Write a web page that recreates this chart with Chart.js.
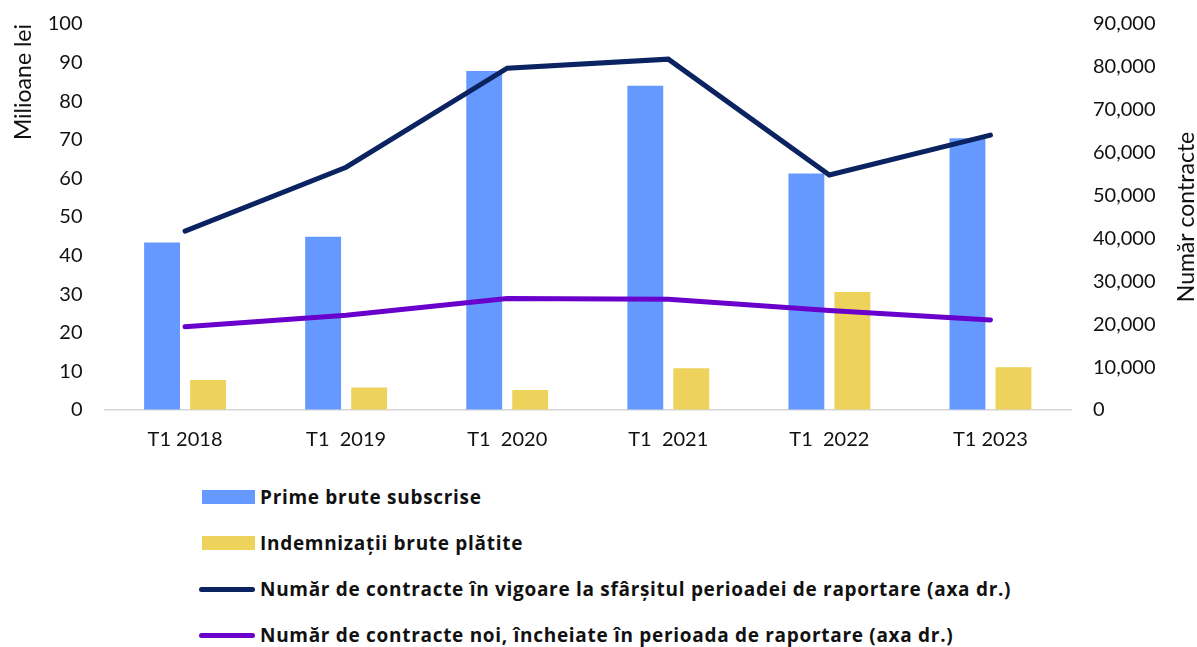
<!DOCTYPE html>
<html>
<head>
<meta charset="utf-8">
<script src="https://cdn.jsdelivr.net/npm/chart.js@4"></script>
<style>
  html, body { margin:0; padding:0; background:#fff; }
  #wrap { position:relative; width:1197px; height:647px; overflow:hidden; font-family: Lato, "Liberation Sans", sans-serif; }
  #chartBox { position:absolute; left:0; top:0; width:1197px; height:470px; }
  #legend { position:absolute; left:199px; top:474px; }
  .lg-item { display:flex; align-items:center; height:46px; }
  .lg-mark { width:56px; display:flex; justify-content:flex-end; margin-right:5px; }
  .lg-text { font-family:"Open Sans", sans-serif; font-weight:bold; font-size:19px; letter-spacing:0.7px; color:#111; white-space:nowrap; }
</style>
</head>
<body>
<div id="wrap">
  <div id="chartBox"><canvas id="c"></canvas></div>
  <div id="legend"></div>
</div>
<script>
// Data
const labels = ['T1 2018', 'T1  2019', 'T1  2020', 'T1  2021', 'T1  2022', 'T1 2023'];
const prime = [43.4, 44.9, 87.8, 84.0, 61.3, 70.4];           // milioane lei
const indemnizatii = [7.8, 5.8, 5.2, 10.8, 30.6, 11.1];        // milioane lei
const contracteVigoare = [41700, 56600, 79700, 81800, 54800, 64100]; // axa dr.
const contracteNoi = [19400, 22100, 26000, 25800, 23200, 21000];     // axa dr.

const leftTicks = [0, 10, 20, 30, 40, 50, 60, 70, 80, 90, 100];
const rightTicks = [0, 10000, 20000, 30000, 40000, 50000, 60000, 70000, 80000, 90000];

const BLUE = '#6699ff', YELLOW = '#edd25b', NAVY = '#0b2361', PURPLE = '#6a00cc';
const FONT = 'Lato, "Liberation Sans", sans-serif';

/* ---------- right axis title, drawn rotated like the original ---------- */
const rightTitle = {
  id: 'rightTitle',
  afterDraw(chart){
    const s = chart.scales.y2, ctx = chart.ctx;
    ctx.save();
    ctx.translate(1187, (s.top + s.bottom) / 2);
    ctx.rotate(-Math.PI / 2);
    ctx.font = '23px ' + FONT;
    ctx.fillStyle = '#111';
    ctx.textAlign = 'center';
    ctx.textBaseline = 'middle';
    ctx.fillText('Număr contracte', 0, 0);
    ctx.restore();
  }
};

/* ---------- html legend ---------- */
function buildLegend(chart){
  const box = document.getElementById('legend');
  box.innerHTML = '';
  chart.data.datasets.forEach(ds => {
    const row = document.createElement('div');
    row.className = 'lg-item';
    const mark = document.createElement('div');
    mark.className = 'lg-mark';
    const sw = document.createElement('span');
    if (ds.type === 'line') {
      sw.style.cssText = `display:block;width:58px;height:5px;border-radius:3px;background:${ds.borderColor}`;
    } else {
      sw.style.cssText = `display:block;width:53px;height:14px;background:${ds.backgroundColor}`;
    }
    mark.appendChild(sw);
    const txt = document.createElement('span');
    txt.className = 'lg-text';
    txt.textContent = ds.label;
    row.appendChild(mark); row.appendChild(txt);
    box.appendChild(row);
  });
}

// invisible tick marks push the labels away from the plot without adding top padding
const gapTicks = { display:true, drawOnChartArea:false, drawTicks:true, tickLength:20, tickColor:'rgba(0,0,0,0)' };

const ctx = document.getElementById('c').getContext('2d');
const chart = new Chart(ctx, {
  data: {
    labels,
    datasets: [
      { type:'bar', label:'Prime brute subscrise', data:prime, backgroundColor:BLUE, yAxisID:'y', order:2,
        categoryPercentage:0.571, barPercentage:0.78 },
      { type:'bar', label:'Indemnizații brute plătite', data:indemnizatii, backgroundColor:YELLOW, yAxisID:'y', order:2,
        categoryPercentage:0.571, barPercentage:0.78 },
      { type:'line', label:'Număr de contracte în vigoare la sfârșitul perioadei de raportare (axa dr.)', data:contracteVigoare,
        borderColor:NAVY, backgroundColor:NAVY, borderWidth:5, pointRadius:0, tension:0, borderCapStyle:'round', borderJoinStyle:'miter', yAxisID:'y2', order:1 },
      { type:'line', label:'Număr de contracte noi, încheiate în perioada de raportare (axa dr.)', data:contracteNoi,
        borderColor:PURPLE, backgroundColor:PURPLE, borderWidth:5, pointRadius:0, tension:0, borderCapStyle:'round', yAxisID:'y2', order:0 }
    ]
  },
  options: {
    responsive: true,
    maintainAspectRatio: false,
    animation: false,
    layout: { padding: { left:6, top:24, right:0, bottom:0 } },
    plugins: { legend: { display:false }, tooltip: { enabled:false } },
    scales: {
      x: {
        grid: { display:false, drawTicks:false },
        border: { display:true, color:'#d6d6d6', width:1.5 },
        ticks: { color:'#111', font:{ family:FONT, size:20 }, padding:18, maxRotation:0 },
        afterFit: s => { s.height = 60; }
      },
      y: {
        position:'left', min:0, max:100,
        grid: gapTicks,
        border: { display:false },
        afterBuildTicks: s => { s.ticks = leftTicks.map(v => ({ value:v })); },
        ticks: { color:'#111', font:{ family:FONT, size:20 }, padding:2 },
        title: { display:true, text:'Milioane lei', align:'end', color:'#111', font:{ family:FONT, size:23 } },
        afterFit: s => { s.width = 98.5; }
      },
      y2: {
        position:'right', min:0, max:90000,
        grid: gapTicks,
        border: { display:false },
        afterBuildTicks: s => { s.ticks = rightTicks.map(v => ({ value:v })); },
        ticks: { color:'#111', font:{ family:FONT, size:20 }, padding:2,
          callback: v => Number(v).toLocaleString('en-US') },
        afterFit: s => { s.width = 126; }
      }
    }
  },
  plugins: [rightTitle]
});
buildLegend(chart);
</script>
</body>
</html>
